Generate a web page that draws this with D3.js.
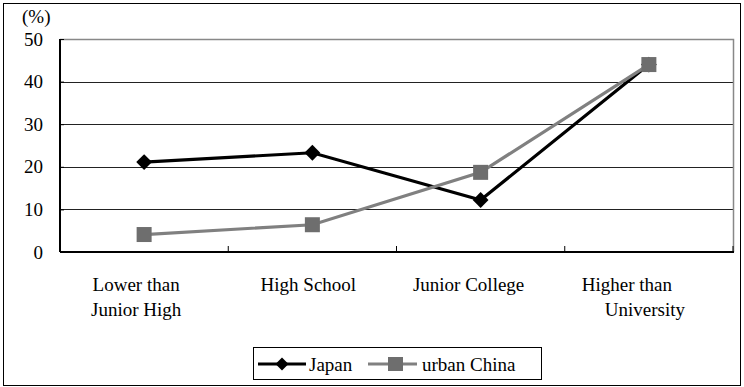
<!DOCTYPE html>
<html>
<head>
<meta charset="utf-8">
<script src="https://cdn.jsdelivr.net/npm/d3@7"></script>
<style>
  html, body { margin: 0; padding: 0; background: #fff; }
  svg { display: block; }
</style>
</head>
<body>
<svg id="chart" width="744" height="387"></svg>
<script>
// Education level shares (%) by country
const categories = ["Lower than|Junior High", "High School", "Junior College", "Higher than|University"];
const japan = [21.1, 23.3, 12.2, 44.0];
const urbanChina = [4.1, 6.4, 18.7, 44.0];
const yTicks = [0, 10, 20, 30, 40, 50];

const FONT = "'Liberation Serif', 'Times New Roman', Times, 'DejaVu Serif', serif";
const FS = "19px";

const svg = d3.select("#chart");
const W = 744, H = 387;
const plot = { left: 60, right: 733, top: 39, bottom: 252 };

// outer frame
svg.append("rect")
  .attr("x", 3.5).attr("y", 3.5)
  .attr("width", W - 7).attr("height", H - 5)
  .attr("fill", "none").attr("stroke", "#000").attr("stroke-width", 1);

const x = d3.scaleBand().domain(categories).range([plot.left, plot.right]).padding(0);
const y = d3.scaleLinear().domain([0, 50]).range([plot.bottom, plot.top]);

// horizontal gridlines
svg.append("g").selectAll("line")
  .data(yTicks.filter(t => t > 0 && t < 50))
  .join("line")
  .attr("x1", plot.left).attr("x2", plot.right)
  .attr("y1", d => Math.round(y(d)) + 0.5).attr("y2", d => Math.round(y(d)) + 0.5)
  .attr("stroke", "#222").attr("stroke-width", 1);

// plot area top and right border in grey
svg.append("path")
  .attr("d", `M${plot.left},${plot.top + 0.5}H${plot.right + 0.5}V${plot.bottom}`)
  .attr("fill", "none").attr("stroke", "#888").attr("stroke-width", 1.5);

// y axis
const yAxis = d3.axisLeft(y).tickValues(yTicks).tickSize(4).tickPadding(13);
const gy = svg.append("g").attr("transform", `translate(${plot.left},0)`).call(yAxis);
gy.attr("font-family", null).attr("font-size", null);
gy.select(".domain").attr("stroke", "#000").attr("stroke-width", 2)
  .attr("d", `M0,${plot.top}V${plot.bottom}`);
gy.selectAll(".tick line").attr("stroke", "#000").attr("x2", 4);
gy.selectAll(".tick text")
  .style("font-family", FONT).style("font-size", FS).attr("fill", "#000");

// x axis (category separators as ticks)
const gx = svg.append("g").attr("transform", `translate(0,${plot.bottom})`);
gx.append("line").attr("x1", plot.left).attr("x2", plot.right + 1)
  .attr("stroke", "#000").attr("stroke-width", 2);
const sepPositions = categories.map(c => x(c)).concat([x(categories[categories.length - 1]) + x.bandwidth()]);
gx.selectAll("line.sep").data(sepPositions.slice(1)).join("line")
  .attr("class", "sep")
  .attr("x1", d => d).attr("x2", d => d)
  .attr("y1", 0).attr("y2", -6)
  .attr("stroke", "#000").attr("stroke-width", 1);

function label(sel, px, py, txt, anchor) {
  return sel.append("text")
    .attr("x", px).attr("y", py)
    .attr("text-anchor", anchor || "start")
    .style("font-family", FONT).style("font-size", FS).attr("fill", "#000")
    .text(txt);
}

// category labels
const labelOffsets = [[-8, -8], [-4], [-12], [-22, -4]];
categories.forEach((c, i) => {
  c.split("|").forEach((ln, j) => {
    label(svg, x(c) + x.bandwidth() / 2 + labelOffsets[i][j], 291 + j * 25, ln, "middle");
  });
});

// unit label
label(svg, 22, 23, "(%)");

const cx = c => x(c) + x.bandwidth() / 2;
const line = d3.line().x((d, i) => cx(categories[i])).y(d => y(d));

// Japan series
svg.append("path").datum(japan)
  .attr("d", line).attr("fill", "none")
  .attr("stroke", "#000").attr("stroke-width", 3.2);
svg.append("g").selectAll("path").data(japan).join("path")
  .attr("transform", (d, i) => `translate(${cx(categories[i])},${y(d)}) rotate(45)`)
  .attr("d", d3.symbol().type(d3.symbolSquare).size(125))
  .attr("fill", "#000");

// urban China series (drawn over Japan)
svg.append("path").datum(urbanChina)
  .attr("d", line).attr("fill", "none")
  .attr("stroke", "#808080").attr("stroke-width", 3.2);
svg.append("g").selectAll("rect").data(urbanChina).join("rect")
  .attr("x", (d, i) => cx(categories[i]) - 7.5)
  .attr("y", d => y(d) - 7.5)
  .attr("width", 15).attr("height", 15)
  .attr("fill", "#6e6e6e");

// legend
const lg = svg.append("g");
lg.append("rect").attr("x", 253.5).attr("y", 347.5).attr("width", 288).attr("height", 32)
  .attr("fill", "#fff").attr("stroke", "#000").attr("stroke-width", 1);
lg.append("line").attr("x1", 258).attr("x2", 306).attr("y1", 364).attr("y2", 364)
  .attr("stroke", "#000").attr("stroke-width", 3.2);
lg.append("path").attr("transform", "translate(282,364) rotate(45)")
  .attr("d", d3.symbol().type(d3.symbolSquare).size(85)).attr("fill", "#000");
label(lg, 309, 371, "Japan");
lg.append("line").attr("x1", 368).attr("x2", 417).attr("y1", 364).attr("y2", 364)
  .attr("stroke", "#808080").attr("stroke-width", 3.2);
lg.append("rect").attr("x", 388).attr("y", 357).attr("width", 15).attr("height", 14).attr("fill", "#6e6e6e");
label(lg, 422, 371, "urban China");
</script>
</body>
</html>
